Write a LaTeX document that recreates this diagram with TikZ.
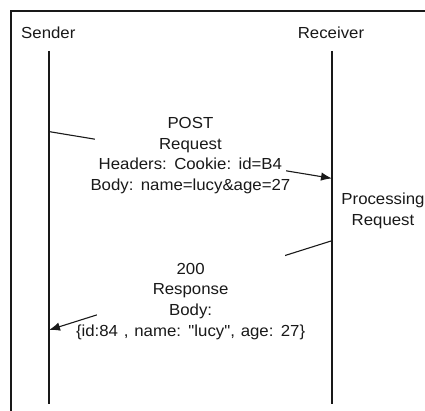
\documentclass[tikz,border=0pt]{standalone}
\usepackage{fontspec}
\setmainfont[FakeStretch=1.05,WordSpace=1.25,Ligatures=TeXOff]{Liberation Sans}
\usetikzlibrary{arrows.meta}
\definecolor{ink}{RGB}{25,25,25}
\begin{document}
\begin{tikzpicture}[x=1pt,y=-1pt,
  frameline/.style={line width=1.1pt, draw=ink},
  lifeline/.style={line width=1.1pt, draw=ink},
  msg/.style={line width=1.1pt, draw=ink, -{Latex[length=11pt,width=8.5pt]}},
  lbl/.style={font=\fontsize{16}{20.8}\selectfont, text=ink, align=center, inner sep=0pt},
]
\useasboundingbox (0,0) rectangle (425,411);
% frame (right and bottom edges lie outside the picture)
\coordinate (frBL) at (11,430);
\coordinate (frTL) at (11,11);
\coordinate (frTR) at (440,11);
\draw[frameline] (frBL) -- (frTL) -- (frTR);
% participants
\node[lbl, anchor=base] (sender) at (48.3,39) {Sender};
\node[lbl, anchor=base] (receiver) at (331,39) {Receiver};
\coordinate (sTop) at (49,51);
\coordinate (sBot) at (49,404);
\coordinate (rTop) at (332,51);
\coordinate (rBot) at (332,404);
\draw[lifeline] (sTop) -- (sBot);
\draw[lifeline] (rTop) -- (rBot);
% request message
\coordinate (reqS) at (49,131.6);
\coordinate (reqR) at (332,178.4);
\draw[msg] (reqS) -- (reqR);
\node[lbl, fill=white, inner xsep=-4pt, inner ysep=4pt] (reqtext) at (190.4,155.6)
  {POST\\Request\\Headers: Cookie: id=B4\\Body: name=lucy\&age=27};
% processing
\node[lbl] (proc) at (383,210.5) {Processing\\Request};
% response message
\coordinate (resS) at (332,240.7);
\coordinate (resR) at (49,330);
\draw[msg] (resS) -- (resR);
\node[lbl, fill=white, inner xsep=-20.5pt, inner ysep=10pt] (restext) at (190.6,301.4)
  {200\\Response\\Body:\\\{id:84 , name: "lucy", age: 27\}};
\end{tikzpicture}
\end{document}
